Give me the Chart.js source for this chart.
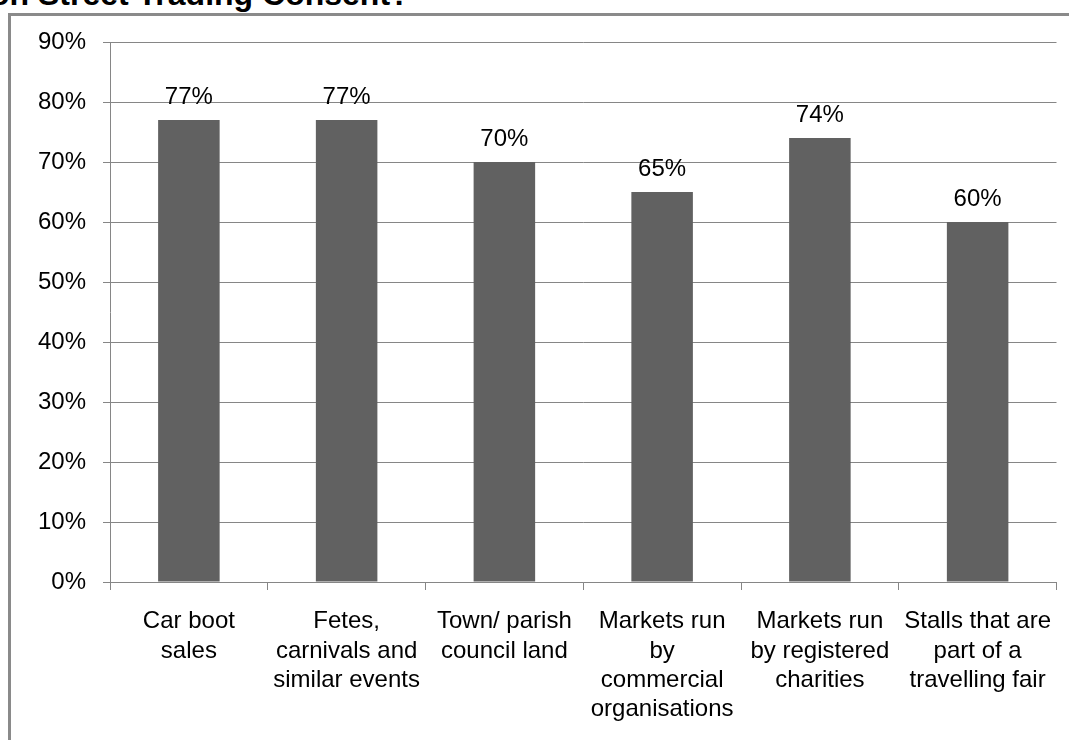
<!DOCTYPE html>
<html>
<head>
<meta charset="utf-8">
<script src="https://cdn.jsdelivr.net/npm/chart.js@4"></script>
<style>
  body { margin: 0; background: #fff; }
  #wrap { position: relative; width: 1069px; height: 740px; overflow: hidden; background: #fff; }
  #frame { position: absolute; left: 8px; top: 13px; width: 1100px; height: 800px;
           border-left: 3px solid #8a8a8a; border-top: 3px solid #8a8a8a; }
  #title { position: absolute; left: -10px; top: -22px; white-space: nowrap;
           font: bold 32px "Liberation Sans", Arial, sans-serif; line-height: 32px; color: #000; }
  #myChart { position: absolute; left: 0; top: 0; }
</style>
</head>
<body>
<div id="wrap">
  <div id="title">on Street Trading Consent?</div>
  <div id="frame"></div>
  <canvas id="myChart" width="1069" height="740"></canvas>
</div>
<script>
const categories = [
    ['Car boot', 'sales'],
    ['Fetes,', 'carnivals and', 'similar events'],
    ['Town/ parish', 'council land'],
    ['Markets run', 'by', 'commercial', 'organisations'],
    ['Markets run', 'by registered', 'charities'],
    ['Stalls that are', 'part of a', 'travelling fair']
];
const values = [77, 77, 70, 65, 74, 60];
const yTicks = [0, 10, 20, 30, 40, 50, 60, 70, 80, 90];

const fontFamily = '"Liberation Sans", Arial, sans-serif';
const gridColor = '#868686';

const barLabels = {
    id: 'barLabels',
    afterDatasetsDraw(chart) {
        const ctx = chart.ctx;
        const meta = chart.getDatasetMeta(0);
        ctx.save();
        ctx.font = '24px ' + fontFamily;
        ctx.fillStyle = '#000';
        ctx.textAlign = 'center';
        ctx.textBaseline = 'alphabetic';
        meta.data.forEach((bar, i) => {
            ctx.fillText(values[i] + '%', bar.x, bar.y - 16);
        });
        ctx.restore();
    }
};

const ctx = document.getElementById('myChart').getContext('2d');
const myChart = new Chart(ctx, {
    type: 'bar',
    data: {
        labels: categories,
        datasets: [{
            data: values,
            backgroundColor: '#616161',
            borderWidth: 0,
            categoryPercentage: 1,
            barPercentage: 0.39
        }]
    },
    options: {
        responsive: false,
        animation: false,
        layout: {
            padding: { left: 0, right: 12, top: 42, bottom: 0 }
        },
        plugins: {
            legend: { display: false },
            tooltip: { enabled: false }
        },
        scales: {
            x: {
                grid: {
                    drawOnChartArea: false,
                    tickLength: 8,
                    color: gridColor
                },
                border: { color: gridColor, width: 1 },
                ticks: {
                    color: '#000',
                    font: { family: fontFamily, size: 24, lineHeight: 1.22 },
                    padding: 17,
                    maxRotation: 0,
                    autoSkip: false
                },
                afterFit: function (scale) {
                    scale.height = 158;
                }
            },
            y: {
                min: 0,
                max: 90,
                afterBuildTicks: function (scale) {
                    scale.ticks = yTicks.map(v => ({ value: v }));
                },
                grid: {
                    color: gridColor,
                    tickLength: 7
                },
                border: { color: gridColor, width: 1 },
                ticks: {
                    color: '#000',
                    font: { family: fontFamily, size: 24 },
                    padding: 17,
                    callback: function (value) {
                        return value + '%';
                    }
                },
                afterFit: function (scale) {
                    scale.width = 110;
                }
            }
        }
    },
    plugins: [barLabels]
});
</script>
</body>
</html>
